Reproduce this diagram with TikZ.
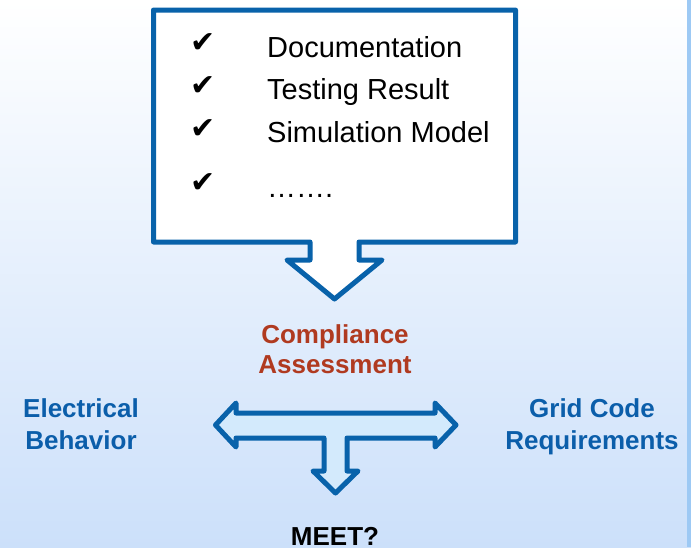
\documentclass[tikz,border=0pt]{standalone}
\usepackage{fontspec}
\setmainfont{Liberation Sans}
\newfontfamily\symfont{DejaVu Sans}
\definecolor{bord}{HTML}{0862AA}
\definecolor{tfill}{HTML}{D3EAFC}
\definecolor{bgmid}{HTML}{EDF4FD}
\definecolor{bgbot}{HTML}{CCE0FA}
\definecolor{strip}{HTML}{9DC9F4}
\definecolor{bluetxt}{HTML}{0B5EAA}
\definecolor{redtxt}{HTML}{B03A20}
\tikzset{
  blockarrow/.style={draw=bord, line width=5pt, line join=round},
  checkmk/.style={inner sep=0pt, font=\fontsize{30}{32}\selectfont\symfont},
  listtxt/.style={anchor=base west, inner sep=0pt, font=\fontsize{29}{32}\selectfont},
  boldlbl/.style={anchor=base, inner sep=0pt, align=center, font=\fontsize{26}{32}\selectfont\bfseries}
}
\begin{document}
\begin{tikzpicture}[x=1pt,y=-1pt]
\useasboundingbox (0,0) rectangle (691,547);
\shade[top color=white, middle color=bgmid, bottom color=bgbot] (0,0) rectangle (691,547);
\fill[strip] (687,0) rectangle (691,547);
% callout box with down arrow
\path[blockarrow, fill=white] (153.5,10) -- (515.5,10) -- (515.5,242) -- (359,242) -- (359,260) -- (382,260) -- (334.5,299) -- (287,260) -- (310,260) -- (310,242) -- (153.5,242) -- cycle;
% checks and list
\node[checkmk] (c1) at (203,43.5) {✔};
\node[checkmk] (c2) at (203,86.5) {✔};
\node[checkmk] (c3) at (203,129) {✔};
\node[checkmk] (c4) at (203,183) {✔};
\node[listtxt] (l1) at (267,57) {Documentation};
\node[listtxt] (l2) at (267,99) {Testing Result};
\node[listtxt] (l3) at (267,142) {Simulation Model};
\node[listtxt] (l4) at (267,197) {…….};
% labels
\node[boldlbl, text=redtxt, font=\fontsize{26}{30}\selectfont\bfseries] (ca) at (335,373) {Compliance\\Assessment};
\node[boldlbl, text=bluetxt] (eb) at (81,449) {Electrical\\Behavior};
\node[boldlbl, text=bluetxt] (gc) at (592,449) {Grid Code\\Requirements};
\node[boldlbl, text=black] (meet) at (335,545) {MEET?};
% T arrow
\path[blockarrow, fill=tfill] (215.5,425) -- (236,403) -- (236,413) -- (435,413) -- (435,403) -- (456,425) -- (435,447) -- (435,438) -- (347,438) -- (347,471) -- (358,471) -- (335.5,493) -- (313,471) -- (324,471) -- (324,438) -- (236,438) -- (236,447) -- cycle;
\end{tikzpicture}
\end{document}
